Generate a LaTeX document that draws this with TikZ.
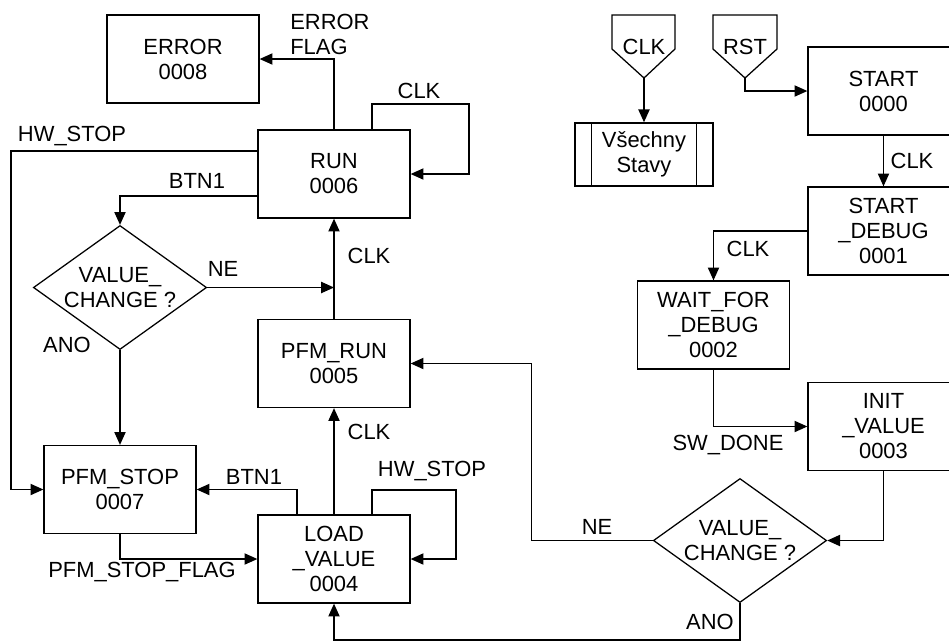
\documentclass[tikz,border=0pt]{standalone}
\usepackage{fontspec}
\setmainfont{Liberation Sans}
\usepackage{tikz}
\usetikzlibrary{shapes,arrows.meta,positioning,calc}

\begin{document}
\begin{tikzpicture}[
  x=0.025cm, y=-0.025cm,
  font=\fontsize{15.6}{17.8}\selectfont,
  state/.style={rectangle, draw=black, line width=0.9pt, minimum width=3.8cm,
                minimum height=2.2cm, align=center, inner sep=0pt},
  cond/.style={diamond, draw=black, line width=0.9pt, minimum width=4.33cm,
               minimum height=3.1cm, aspect=1.4, align=center, inner sep=0pt},
  sig/.style={line width=0.9pt},
  arr/.style={-{Triangle[length=0.32cm,width=0.28cm]}, line width=0.9pt},
  lbl/.style={inner sep=0pt}
]
\useasboundingbox (0,0) rectangle (949,641);
\clip (0,0) rectangle (949,641);

%% Left states
\node[state] (err) at (183,59) {ERROR\\0008};
\node[state] (run) at (334,174) {RUN\\0006};
\node[state] (pfmrun) at (334,363.5) {PFM\_RUN\\0005};
\node[state] (pfmstop) at (120,489.5) {PFM\_STOP\\0007};
\node[state] (load) at (334,559) {LOAD\\\_VALUE\\0004};
\node[cond] (chg1) at (120,287.5) {VALUE\_\\CHANGE ?};

%% Right states
\node[state, minimum width=3.775cm] (start) at (883.5,91) {START\\0000};
\node[state, minimum width=3.775cm] (sdbg) at (883.5,231) {START\\\_DEBUG\\0001};
\node[state] (wait) at (713.5,325) {WAIT\_FOR\\\_DEBUG\\0002};
\node[state, minimum width=3.775cm] (init) at (883.5,426.5) {INIT\\\_VALUE\\0003};
\node[cond] (chg2) at (740,540.5) {VALUE\_\\CHANGE ?};

%% All states box
\node[state, minimum width=3.45cm, minimum height=1.58cm] (vs) at (644,154.5) {V\v{s}echny\\Stavy};
\draw[sig] ($(vs.north west)+(17,0)$) -- ($(vs.south west)+(17,0)$);
\draw[sig] ($(vs.north east)+(-17,0)$) -- ($(vs.south east)+(-17,0)$);

%% Inputs
\draw[sig] (612,15) -- (675,15) -- (675,49) -- (644,78) -- (612,49) -- cycle;
\node (clkin) at (644,47) {CLK};
\coordinate (clktip) at (644,78);
\draw[sig] (713,15) -- (777,15) -- (777,49) -- (745,78) -- (713,49) -- cycle;
\node (rstin) at (745,47) {RST};
\coordinate (rsttip) at (745,78);

%% Transitions
\draw[arr] (clktip) -- (vs);
\draw[arr] (rsttip) |- (start.west);
\draw[arr] (start) -- (sdbg);
\draw[arr] (sdbg.west) -| (wait.north);
\draw[arr] (wait.south) |- (init.west);
\draw[arr] (init.south) |- (chg2.east);
\draw[arr] (chg2.west) -| ($(pfmrun.east)+(121,0)$) -- (pfmrun.east);
\draw[arr] (chg2.south) -- (chg2.south |- 0,640) -| (load.south);
\draw[arr] (load) -- (pfmrun);
\draw[arr] (pfmrun) -- (run);
\draw[arr] ($(load.north)+(-37,0)$) |- (pfmstop.east);
\draw[arr] ($(load.north)+(38,0)$) |- (456,490) |- (load.east);
\draw[arr] (pfmstop.south) |- (load.west);
\draw[arr] (run.north) |- (err.east);
\draw[arr] ($(run.north)+(38,0)$) |- (469,104) |- (run.east);
\draw[arr] (run.west |- 0,151) -| (11,489.5) -- (pfmstop.west);
\draw[arr] (run.west |- 0,196) -| (chg1.north);
\draw[arr] (chg1.east) -- (chg1.east -| run.south);
\draw[arr] (chg1.south) -- (pfmstop.north);

%% Labels
\node[lbl, align=left, anchor=west] (lerr) at (290,34) {ERROR\\FLAG};
\node[lbl] (lclkrun) at (419,91) {CLK};
\node[lbl] (lhwrun) at (72,136) {HW\_STOP};
\node[lbl] (lbtnrun) at (197,181) {BTN1};
\node[lbl] (lne1) at (223,269) {NE};
\node[lbl] (lclkpr) at (369,256) {CLK};
\node[lbl] (lano1) at (67,345) {ANO};
\node[lbl] (lclkld) at (369,432) {CLK};
\node[lbl] (lbtnld) at (254,477) {BTN1};
\node[lbl] (lhwld) at (432,471) {HW\_STOP};
\node[lbl] (lflag) at (142,572) {PFM\_STOP\_FLAG};
\node[lbl] (lano2) at (710,622) {ANO};
\node[lbl] (lne2) at (597,527) {NE};
\node[lbl] (lsw) at (728,445) {SW\_DONE};
\node[lbl] (lclksd) at (748,249) {CLK};
\node[lbl] (lclkst) at (912,161) {CLK};

\end{tikzpicture}
\end{document}
